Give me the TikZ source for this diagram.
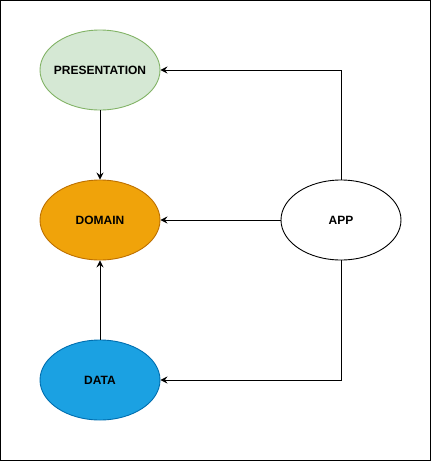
\documentclass[tikz,border=0pt]{standalone}
\usepackage{fontspec}
\setmainfont{Liberation Sans}
\usetikzlibrary{arrows.meta,shapes.geometric}
\definecolor{presfill}{HTML}{D5E8D4}
\definecolor{presline}{HTML}{82B366}
\definecolor{domfill}{HTML}{F0A30A}
\definecolor{domline}{HTML}{BD7000}
\definecolor{datafill}{HTML}{1BA1E2}
\definecolor{dataline}{HTML}{006EAF}
\tikzset{
  layer/.style={ellipse, minimum width=120pt, minimum height=80pt, inner sep=0pt,
    font=\fontsize{12}{14}\selectfont\bfseries, line width=0.9pt},
  conn/.style={draw=black, line width=0.9pt, -{Stealth[length=7pt,width=7pt,inset=2.5pt]}}
}
\begin{document}
\begin{tikzpicture}[x=1pt,y=-1pt]
\useasboundingbox (0,0) rectangle (431,461);
\draw[line width=1.2pt] (0.6,0.6) rectangle (430.4,460.4);
\node[layer, draw=presline, fill=presfill] (pres) at (100,70) {\makebox[0pt]{PRESENTATION}};
\node[layer, draw=domline, fill=domfill] (dom) at (100,220) {\makebox[0pt]{DOMAIN}};
\node[layer, draw=dataline, fill=datafill] (data) at (100,380) {\makebox[0pt]{DATA}};
\node[layer, draw=black, fill=white] (app) at (341,220) {\makebox[0pt]{APP}};
\draw[conn] (pres.south) -- (dom.north);
\draw[conn] (data.north) -- (dom.south);
\draw[conn] (app.west) -- (dom.east);
\draw[conn] (app.north) |- (pres.east);
\draw[conn] (app.south) |- (data.east);
\end{tikzpicture}
\end{document}
